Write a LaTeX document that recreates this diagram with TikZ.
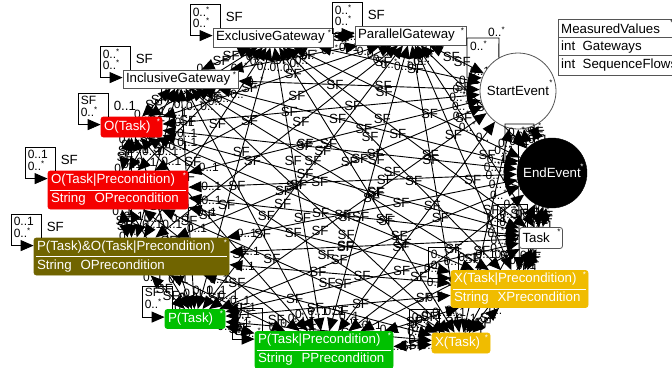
\documentclass[tikz,border=0pt]{standalone}
\usepackage{fontspec}
\setmainfont{Liberation Sans}
\usetikzlibrary{arrows.meta,calc}
\definecolor{ored}{RGB}{245,0,0}
\definecolor{oliv}{RGB}{112,100,0}
\definecolor{pgreen}{RGB}{0,192,0}
\definecolor{xyel}{RGB}{240,188,0}
\definecolor{bgray}{RGB}{85,85,85}
\pgfdeclarelayer{bg}
\pgfsetlayers{bg,main}
\newcommand\mst{\raisebox{4pt}{\fontsize{8}{8}\selectfont *}}
\newcommand\sfloop[4]{%
  \draw[lp] ($(#1.north west)+(8,0)$) -- ++(0,-23) -- ++(-30,0) -- ++(0,31) -- ($(#1.north west)+(0,8)$);
  \node[mult, anchor=north west] (#1-la) at ($(#1.north west)+(-20,-21)$) {#2};
  \node[mult, anchor=north west] (#1-lb) at ($(#1.north west)+(-20,-10)$) {#3};
  \node[sf, anchor=west] (#1-lc) at ($(#1.north west)+(13,-11)$) {#4};
}
\begin{document}
\begin{tikzpicture}[x=1pt,y=-1pt,
  every node/.style={font=\fontsize{13.3}{19}\selectfont},
  cls/.style={draw=bgray, fill=white, line width=0.8pt, inner xsep=3pt, inner ysep=0pt, align=left},
  ccls/.style={cls, draw=#1, fill=#1, text=white, rounded corners=2.5pt},
  starl/.style={inner sep=0pt, font=\fontsize{8}{8}\selectfont},
  conn/.style={line width=0.9pt, {Triangle[length=13pt,width=11pt]}-{Triangle[length=13pt,width=11pt]}},
  lp/.style={line width=0.9pt, -{Triangle[length=13pt,width=11pt]}},
  sf/.style={inner sep=0pt, font=\fontsize{13.3}{14}\selectfont},
  mult/.style={inner sep=0pt, font=\fontsize{12}{12}\selectfont},
  sepl/.style={white, line width=0.8pt}
]
\useasboundingbox (0,0) rectangle (672,367);

% class nodes
\node[cls, text width=114pt, minimum height=19pt] (EG) at (273,37.5) {ExclusiveGateway};
\node[cls, text width=105pt, minimum height=19pt] (PG) at (410.5,35.5) {ParallelGateway};
\node[cls, text width=109pt, minimum height=18pt] (IG) at (180.5,79) {InclusiveGateway};
\node[ccls=ored, text width=55pt, minimum height=20pt] (OT) at (131.5,127) {O(Task)};
\node[ccls=ored, text width=134pt, minimum height=38pt] (OTP) at (118,190) {O(Task|Precondition)\\String\ \ OPrecondition};
\node[ccls=oliv, text width=189pt, minimum height=37pt] (PO) at (131.5,256.5) {P(Task)\&O(Task|Precondition)\\String\ \ OPrecondition};
\node[ccls=pgreen, text width=54pt, minimum height=19pt] (PT) at (195,319) {P(Task)};
\node[ccls=pgreen, text width=132pt, minimum height=37pt] (PTP) at (324,350) {P(Task|Precondition)\\String\ \ PPrecondition};
\node[ccls=xyel, text width=52pt, minimum height=20pt] (XT) at (461,343) {X(Task)};
\node[ccls=xyel, text width=131pt, minimum height=37pt] (XTP) at (519.5,289) {X(Task|Precondition)\\String\ \ XPrecondition};
\node[cls, rounded corners=2.5pt, text width=37pt, minimum height=21pt] (Task) at (541,238) {Task};
\node[circle, draw=black, fill=black, text=white, minimum size=70pt, inner sep=0pt] (EE) at (552,173) {EndEvent};
\node[circle, draw=bgray, fill=white, line width=0.8pt, minimum size=76pt, inner sep=0pt] (SE) at (518,91) {StartEvent};

% separators in two-row classes
\foreach \n in {OTP,PO,PTP,XTP}{
  \draw[sepl] ($(\n.west)+(2,0)$) -- ($(\n.east)+(-2,0)$);
}

% stars
\foreach \n in {EG,PG,IG,Task}{
  \node[starl] (\n-st) at ($(\n.north east)+(-4,5)$) {*};
}
\foreach \n in {OT,OTP,PO,PT,PTP,XT,XTP}{
  \node[starl, text=white] (\n-st) at ($(\n.north east)+(-4,5)$) {*};
}
\node[starl] (SE-st) at (551,83) {*};
\node[starl, text=white] (EE-st) at (582,167) {*};

% measured values
\node[draw=bgray, fill=white, line width=0.8pt, anchor=north west, minimum width=122pt, minimum height=56pt, inner sep=0pt] (MV) at (558,19) {};
\draw[bgray, line width=0.8pt] ($(MV.north west)+(0,18)$) -- ($(MV.north east)+(0,18)$);
\draw[bgray, line width=0.8pt] ($(MV.north west)+(0,36)$) -- ($(MV.north east)+(0,36)$);
\node[anchor=west, inner sep=0pt] (MVh) at ($(MV.north west)+(3,10)$) {MeasuredValues};
\node[anchor=west, inner sep=0pt] (MVg) at ($(MV.north west)+(3,28)$) {int\ \ Gateways};
\node[anchor=west, inner sep=0pt] (MVs) at ($(MV.north west)+(3,46)$) {int\ \ SequenceFlows};
\node[starl] (MV-st) at ($(MV.north east)+(-9,4)$) {*};

% self loops
\sfloop{EG}{0..\mst}{0..\mst}{SF}
\sfloop{PG}{0..\mst}{0..\mst}{SF}
\sfloop{IG}{0..\mst}{0..\mst}{SF}
\sfloop{OT}{SF}{0..\mst}{0..1}
\sfloop{OTP}{0..1}{0..\mst}{SF}
\sfloop{PO}{0..1}{0..\mst}{SF}
\sfloop{PT}{SF}{0..\mst}{0..1}
\sfloop{PTP}{0..\mst}{0..\mst}{SF}
\sfloop{XT}{0..\mst}{0..\mst}{SF}
\sfloop{XTP}{0..\mst}{0..\mst}{SF}
\sfloop{Task}{0..\mst}{0..\mst}{SF}
\draw[lp] (SE.120) -- (499,38) -- (467,38) -- (467,78) -- (SE.160);
\node[mult, anchor=north west] (SE-la) at (470,41) {0..\mst};
\node[mult, anchor=north west] (SE-lb) at (488,27) {0..\mst};
\draw[lp] (EE.120) -- (534,124) -- (505,124) -- (505,161) -- (EE.160);
\node[mult, anchor=north west] (EE-la) at (508,127) {0..\mst};

% all sequence-flow references
\def\nlist{IG,EG,PG,SE,EE,Task,XTP,XT,PTP,PT,PO,OTP,OT}
\begin{pgfonlayer}{bg}
\foreach \a [count=\i] in \nlist {
  \foreach \b [count=\j] in \nlist {
    \ifnum\j>\i
      \draw[conn] (\a) -- (\b)
        node[mult,pos=0.07] (m1-\a-\b) {0..\mst}
        node[sf,pos=0.4] (s1-\a-\b) {SF}
        node[sf,pos=0.6] (s2-\a-\b) {SF}
        node[mult,pos=0.93] (m2-\a-\b) {0..1};
    \fi
  }
}
\end{pgfonlayer}
\end{tikzpicture}
\end{document}
